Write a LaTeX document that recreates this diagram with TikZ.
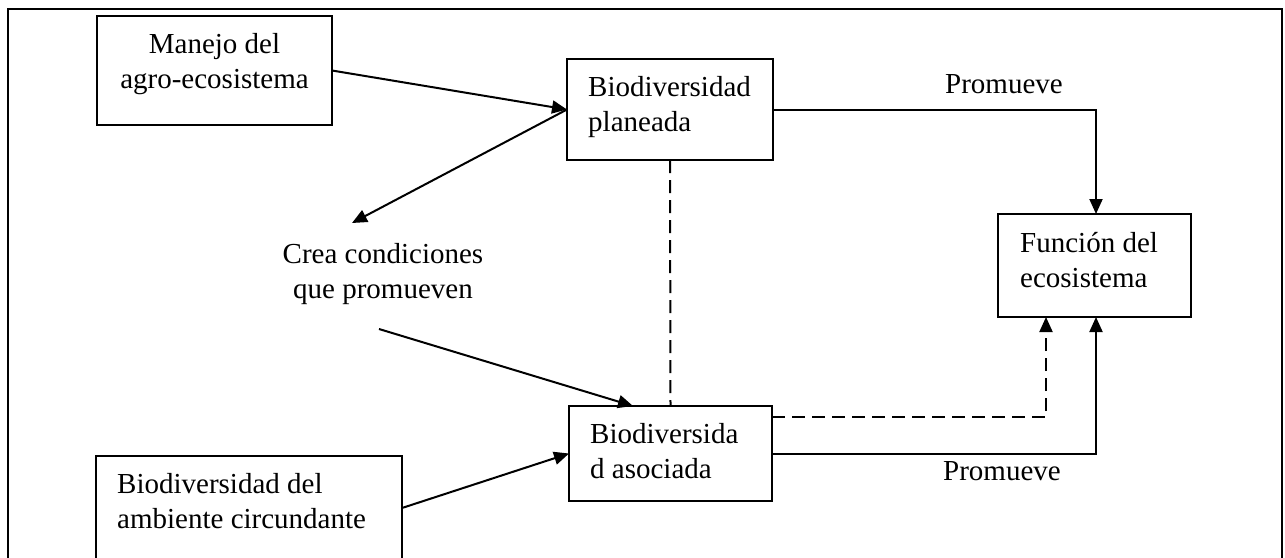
\documentclass[tikz,border=0pt]{standalone}
\usepackage{fontspec}
\setmainfont{Liberation Serif}
\usetikzlibrary{arrows.meta}
\tikzset{
  box/.style={draw, line width=2pt, rectangle, inner sep=0pt, outer sep=0pt},
  txt/.style={inner sep=0pt, font=\fontsize{29}{35}\selectfont,
    execute at begin node={\spaceskip=\fontdimen2\font\relax\xspaceskip=\fontdimen2\font\relax}},
  arr/.style={line width=2pt, -{Triangle[length=15pt,width=13pt]}},
  dsh/.style={line width=2pt, dash pattern=on 13pt off 7pt},
}
\begin{document}
\begin{tikzpicture}[x=1pt,y=-1pt]
\useasboundingbox (0,0) rectangle (1285,557);
\clip (0,0) rectangle (1285,557);
% outer frame
\draw[line width=2.2pt] (8,9) rectangle (1282,620);

% boxes
\node[box, minimum width=235pt, minimum height=109pt] (man) at (214.5,70.5) {};
\node[box, minimum width=206pt, minimum height=101pt] (pl) at (670,109.5) {};
\node[box, minimum width=193pt, minimum height=103pt] (fun) at (1094.5,265.5) {};
\node[box, minimum width=203pt, minimum height=95pt] (as) at (670.5,453.5) {};
\node[box, minimum width=306pt, minimum height=104pt] (amb) at (249,508) {};

% texts
\node[txt, anchor=base, text width=300pt, align=center] (mant) at (214.5,53) {Manejo del\\agro-ecosistema};
\node[txt, anchor=base west, text width=200pt, align=left] (plt) at (588,96) {Biodiversidad\\planeada};
\node[txt, anchor=base west, text width=170pt, align=left] (funt) at (1020,252) {Función del\\ecosistema};
\node[txt, anchor=base west, text width=180pt, align=left] (ast) at (590,443) {Biodiversida\\d asociada};
\node[txt, anchor=base west, text width=280pt, align=left] (ambt) at (117,493) {Biodiversidad del\\ambiente circundante};
\node[txt, anchor=base, text width=260pt, align=center] (crea) at (383,263) {Crea condiciones\\que promueven};
\node[txt, anchor=base west] (prom1) at (945,93) {Promueve};
\node[txt, anchor=base west] (prom2) at (943,480) {Promueve};

% free ends
\coordinate (creaup) at (352,223);
\coordinate (creadn) at (379,329);

% connectors
\draw[arr] (man.east) -- (pl.west);
\draw[arr] (pl.west) -- (creaup);
\draw[arr] (creadn) -- ([xshift=-37.5pt]as.north);
\draw[arr] (amb.east) -- (as.west);
\draw[arr] (pl.east) -| ([xshift=1.5pt]fun.north);
\draw[dsh] (pl.south) -- (as.north);
\draw[dsh, arr] ([yshift=36.5pt]as.east) -| ([xshift=-48.5pt]fun.south);
\draw[arr] (as.east) -| ([xshift=1.5pt]fun.south);
\end{tikzpicture}
\end{document}
